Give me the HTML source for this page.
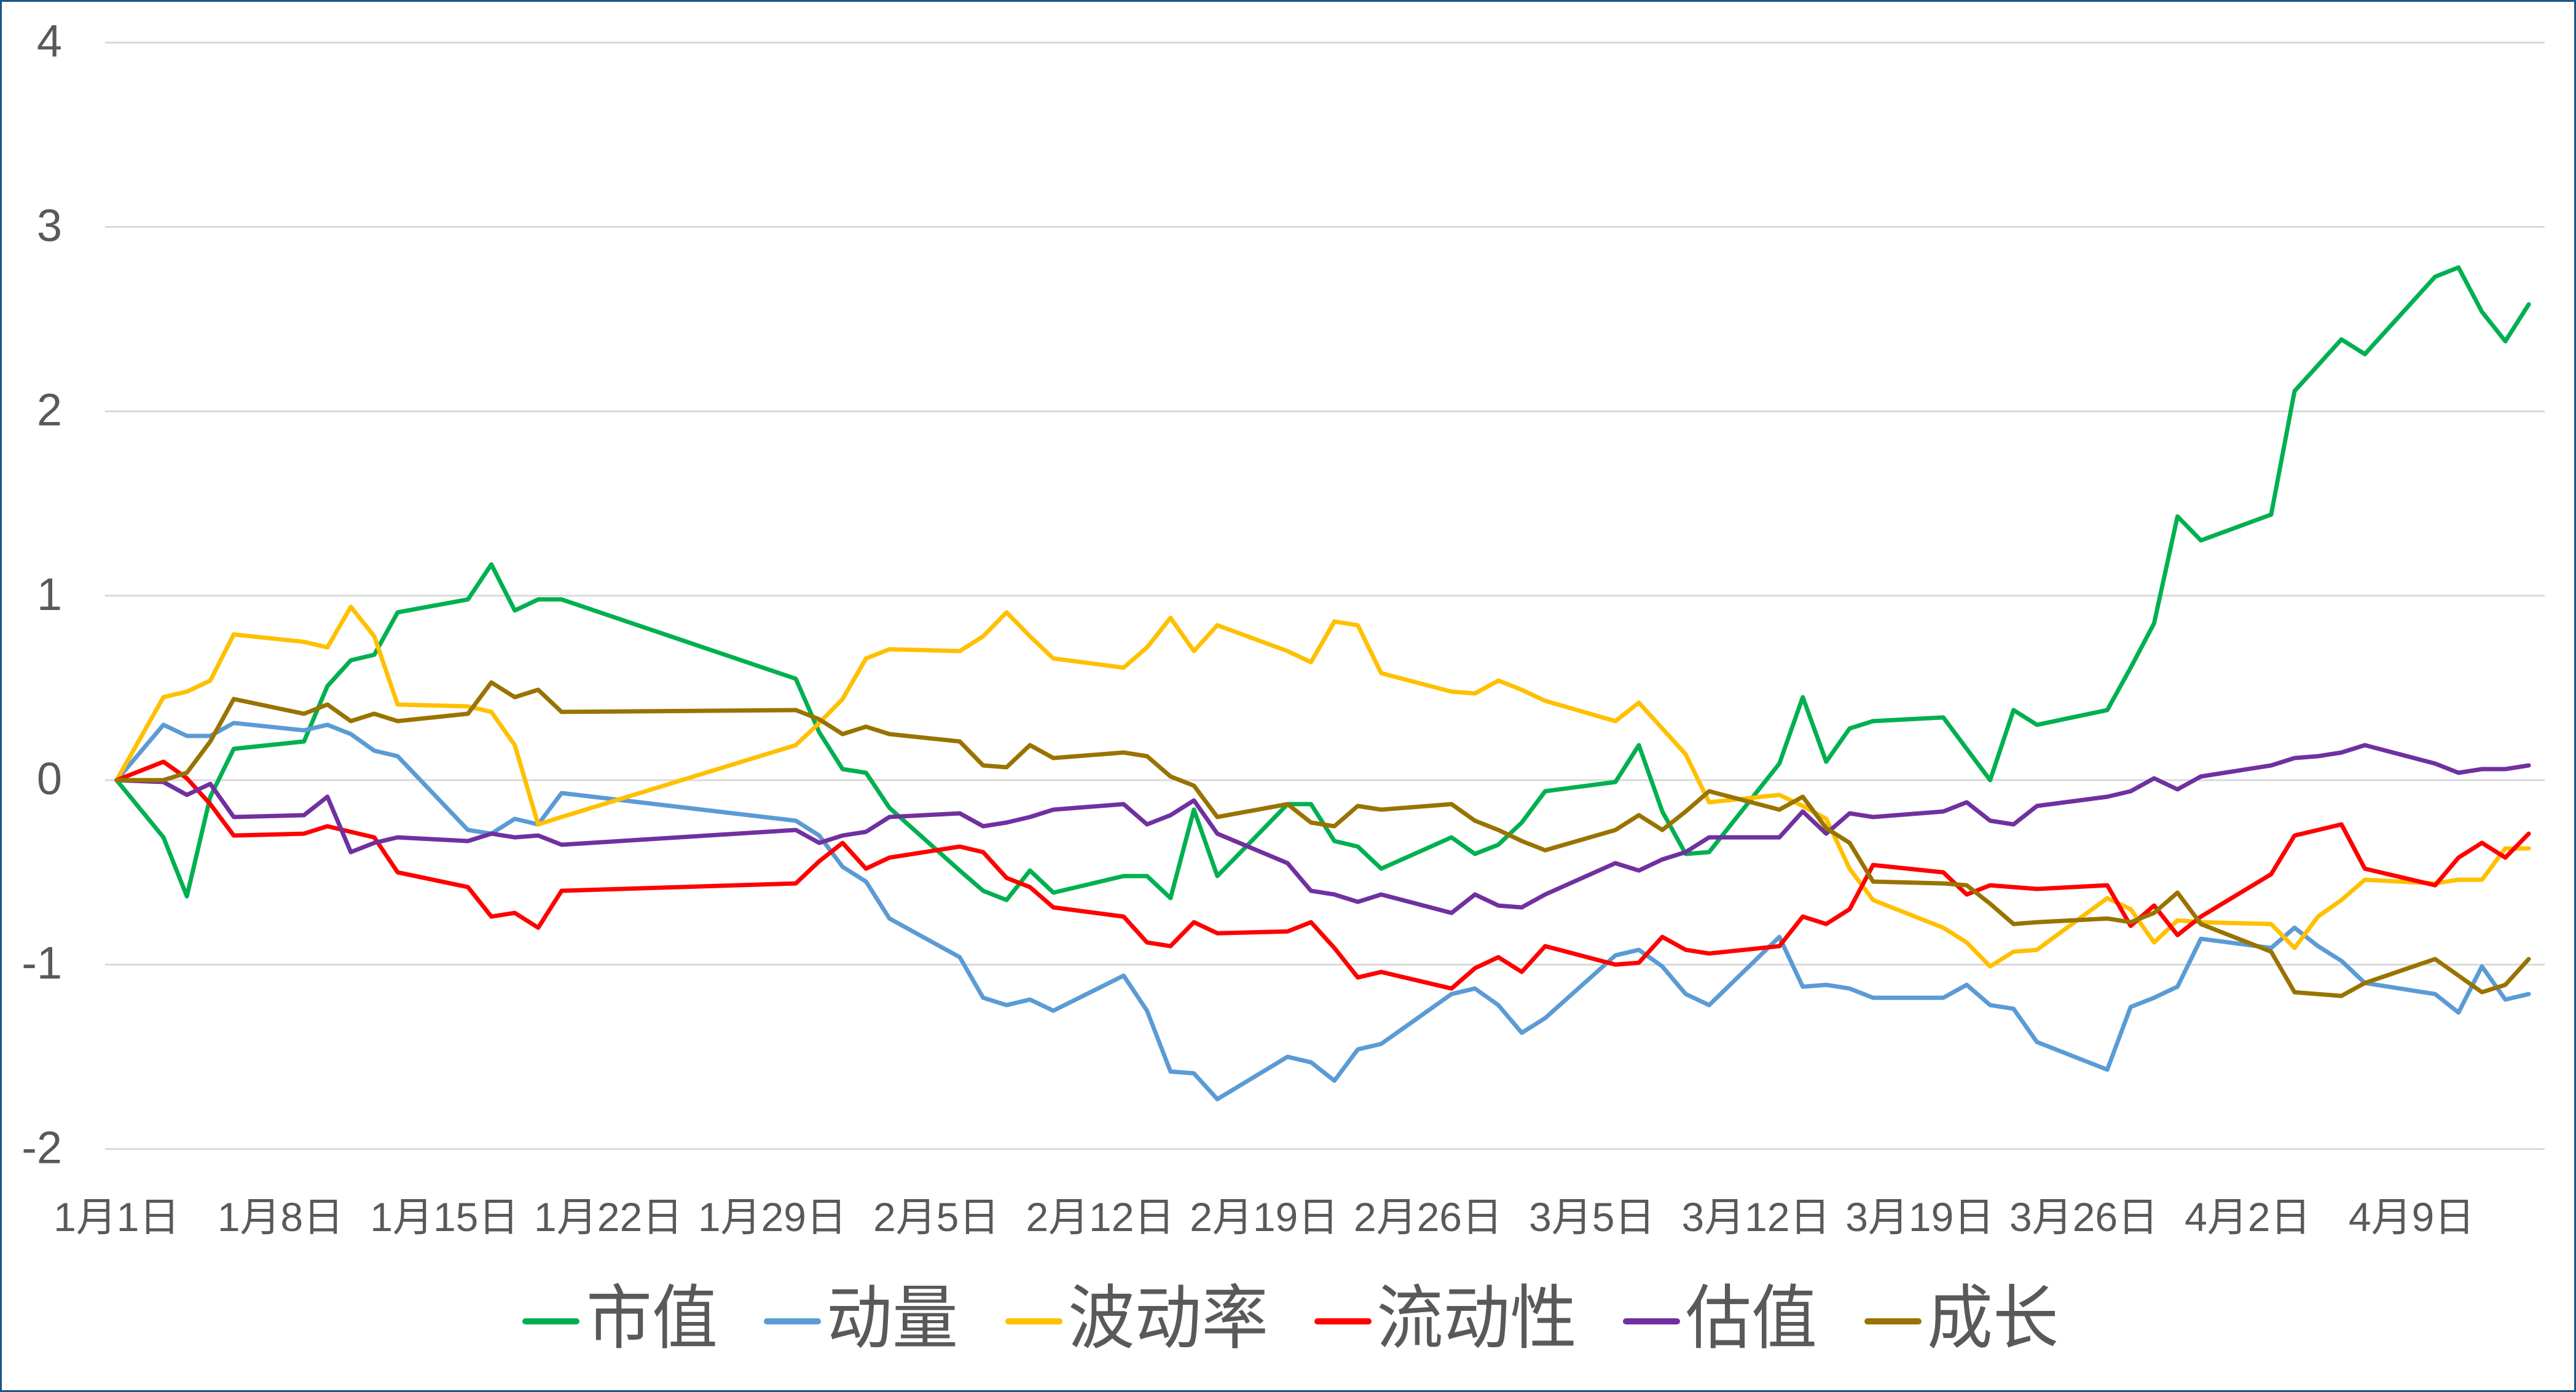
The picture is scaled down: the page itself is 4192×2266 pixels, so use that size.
<!DOCTYPE html>
<html><head><meta charset="utf-8"><style>
html,body{margin:0;padding:0;background:#fff;}
svg{display:block;}
</style></head><body>
<svg id="chart" xmlns="http://www.w3.org/2000/svg" width="4192" height="2266" viewBox="0 0 4192 2266">
<rect x="1.5" y="1.5" width="4189" height="2263" fill="#fff" stroke="#1F5582" stroke-width="3"/>
<g id="grid"></g>
<g id="yaxis"></g>
<g id="xaxis"></g>
<g id="series"></g>
<g id="legend"></g>
</svg>
<script>
const days = [0,2,3,4,5,8,9,10,11,12,15,16,17,18,19,29,30,31,32,33,36,37,38,39,40,43,44,45,46,47,50,51,52,53,54,57,58,59,60,61,64,65,66,67,68,71,72,73,74,75,78,79,80,81,82,85,86,87,88,89,92,93,94,95,96,99,100,101,102,103];
const seriesNames = ["市值","动量","波动率","流动性","估值","成长"];
const marketCap = [0,-0.31,-0.63,-0.09,0.17,0.21,0.51,0.65,0.68,0.91,0.98,1.17,0.92,0.98,0.98,0.55,0.26,0.06,0.04,-0.15,-0.49,-0.60,-0.65,-0.49,-0.61,-0.52,-0.52,-0.64,-0.16,-0.52,-0.13,-0.13,-0.33,-0.36,-0.48,-0.31,-0.40,-0.35,-0.23,-0.06,-0.01,0.19,-0.17,-0.40,-0.39,0.09,0.45,0.10,0.28,0.32,0.34,0.17,0.0,0.38,0.30,0.38,0.61,0.85,1.43,1.30,1.44,2.11,2.25,2.39,2.31,2.73,2.78,2.54,2.38,2.58];
const momentum = [0,0.30,0.24,0.24,0.31,0.27,0.30,0.25,0.16,0.13,-0.27,-0.29,-0.21,-0.24,-0.07,-0.22,-0.30,-0.47,-0.55,-0.75,-0.96,-1.18,-1.22,-1.19,-1.25,-1.06,-1.25,-1.58,-1.59,-1.73,-1.50,-1.53,-1.63,-1.46,-1.43,-1.16,-1.13,-1.22,-1.37,-1.29,-0.95,-0.92,-1.01,-1.16,-1.22,-0.85,-1.12,-1.11,-1.13,-1.18,-1.18,-1.11,-1.22,-1.24,-1.42,-1.57,-1.23,-1.18,-1.12,-0.86,-0.91,-0.80,-0.90,-0.98,-1.10,-1.16,-1.26,-1.01,-1.19,-1.16];
const volatility = [0,0.45,0.48,0.54,0.79,0.75,0.72,0.94,0.78,0.41,0.40,0.37,0.19,-0.24,-0.20,0.19,0.31,0.44,0.66,0.71,0.70,0.78,0.91,0.78,0.66,0.61,0.72,0.88,0.70,0.84,0.70,0.64,0.86,0.84,0.58,0.48,0.47,0.54,0.49,0.43,0.32,0.42,0.28,0.14,-0.12,-0.08,-0.14,-0.21,-0.48,-0.65,-0.80,-0.88,-1.01,-0.93,-0.92,-0.64,-0.70,-0.88,-0.76,-0.77,-0.78,-0.91,-0.74,-0.65,-0.54,-0.56,-0.54,-0.54,-0.37,-0.37];
const liquidity = [0,0.10,0.01,-0.13,-0.30,-0.29,-0.25,-0.28,-0.31,-0.50,-0.58,-0.74,-0.72,-0.80,-0.60,-0.56,-0.44,-0.34,-0.48,-0.42,-0.36,-0.39,-0.53,-0.58,-0.69,-0.74,-0.88,-0.90,-0.77,-0.83,-0.82,-0.77,-0.91,-1.07,-1.04,-1.13,-1.02,-0.96,-1.04,-0.90,-1.00,-0.99,-0.85,-0.92,-0.94,-0.90,-0.74,-0.78,-0.70,-0.46,-0.50,-0.62,-0.57,-0.58,-0.59,-0.57,-0.79,-0.68,-0.84,-0.74,-0.51,-0.30,-0.27,-0.24,-0.48,-0.57,-0.42,-0.34,-0.42,-0.29];
const valuation = [0,-0.01,-0.08,-0.02,-0.20,-0.19,-0.09,-0.39,-0.34,-0.31,-0.33,-0.29,-0.31,-0.30,-0.35,-0.27,-0.34,-0.30,-0.28,-0.20,-0.18,-0.25,-0.23,-0.20,-0.16,-0.13,-0.24,-0.19,-0.11,-0.29,-0.45,-0.60,-0.62,-0.66,-0.62,-0.72,-0.62,-0.68,-0.69,-0.62,-0.45,-0.49,-0.43,-0.39,-0.31,-0.31,-0.17,-0.29,-0.18,-0.20,-0.17,-0.12,-0.22,-0.24,-0.14,-0.09,-0.06,0.01,-0.05,0.02,0.08,0.12,0.13,0.15,0.19,0.09,0.04,0.06,0.06,0.08];
const growth = [0,0.00,0.04,0.21,0.44,0.36,0.41,0.32,0.36,0.32,0.36,0.53,0.45,0.49,0.37,0.38,0.33,0.25,0.29,0.25,0.21,0.08,0.07,0.19,0.12,0.15,0.13,0.02,-0.03,-0.20,-0.13,-0.23,-0.25,-0.14,-0.16,-0.13,-0.22,-0.27,-0.33,-0.38,-0.27,-0.19,-0.27,-0.17,-0.06,-0.16,-0.09,-0.26,-0.34,-0.55,-0.56,-0.57,-0.67,-0.78,-0.77,-0.75,-0.77,-0.72,-0.61,-0.78,-0.93,-1.15,-1.16,-1.17,-1.10,-0.97,-1.06,-1.15,-1.11,-0.97];
const yTicks = [4,3,2,1,0,-1,-2];
const xTickDays = [0,7,14,21,28,35,42,49,56,63,70,77,84,91,98];
const xTickLabels = ["1月1日","1月8日","1月15日","1月22日","1月29日","2月5日","2月12日","2月19日","2月26日","3月5日","3月12日","3月19日","3月26日","4月2日","4月9日"];

const NS = "http://www.w3.org/2000/svg";
const colors = ["#00B050","#5B9BD5","#FFC000","#FF0000","#7030A0","#997300"];
const slugs = ["market-cap","momentum","volatility","liquidity","valuation","growth"];
const allSeries = [marketCap,momentum,volatility,liquidity,valuation,growth];
function xScale(d){ return 189.8 + 38.11*d; }
function yScale(v){ return 1270 - 300.2*v; }
function mk(tag, attrs, parent){ const e=document.createElementNS(NS,tag); for(const k in attrs) e.setAttribute(k,attrs[k]); parent.appendChild(e); return e; }

const grid=document.getElementById('grid'), yax=document.getElementById('yaxis'), xax=document.getElementById('xaxis');
const ser=document.getElementById('series'), leg=document.getElementById('legend');
const FONT='"Liberation Sans","Noto Sans CJK SC",sans-serif';

yTicks.forEach(v=>{
  const y=yScale(v);
  const l=mk('line',{x1:171,x2:4141,y1:y,y2:y,stroke:'#D9D9D9','stroke-width':3},grid);
  
  
  const t=mk('text',{x:101,y:y+23,'text-anchor':'end','font-size':74,fill:'#595959','font-family':FONT},yax);
  t.textContent=String(v);
  
  
});
xTickDays.forEach((d,i)=>{
  const t=mk('text',{x:xScale(d),y:1981,'text-anchor':'middle','dominant-baseline':'central','font-size':66,fill:'#595959','font-family':FONT},xax);
  t.textContent=xTickLabels[i];
  
  
});
allSeries.forEach((vals,si)=>{
  const pts=vals.map((v,i)=>xScale(days[i]).toFixed(1)+','+yScale(v).toFixed(1)).join(' ');
  const p=mk('polyline',{points:pts,fill:'none',stroke:colors[si],'stroke-width':7,'stroke-linejoin':'round','stroke-linecap':'round'},ser);
  
  
});
const legLineX=[850,1243,1636,2139,2641,3034];
const legTextX=[954,1345,1738,2240,2743,3136];
seriesNames.forEach((n,i)=>{
  const g=mk('g',{},leg);
  
  
  const l=mk('line',{x1:legLineX[i]+5,x2:legLineX[i]+88,y1:2151,y2:2151,stroke:colors[i],'stroke-width':10,'stroke-linecap':'round'},g);
  
  
  const t=mk('text',{x:legTextX[i],y:2147,'dominant-baseline':'central','font-size':114,fill:'#595959','font-family':FONT,textLength:n.length===2?214:326,lengthAdjust:'spacingAndGlyphs'},g);
  t.textContent=n;
  
  
});
</script>
</body></html>
